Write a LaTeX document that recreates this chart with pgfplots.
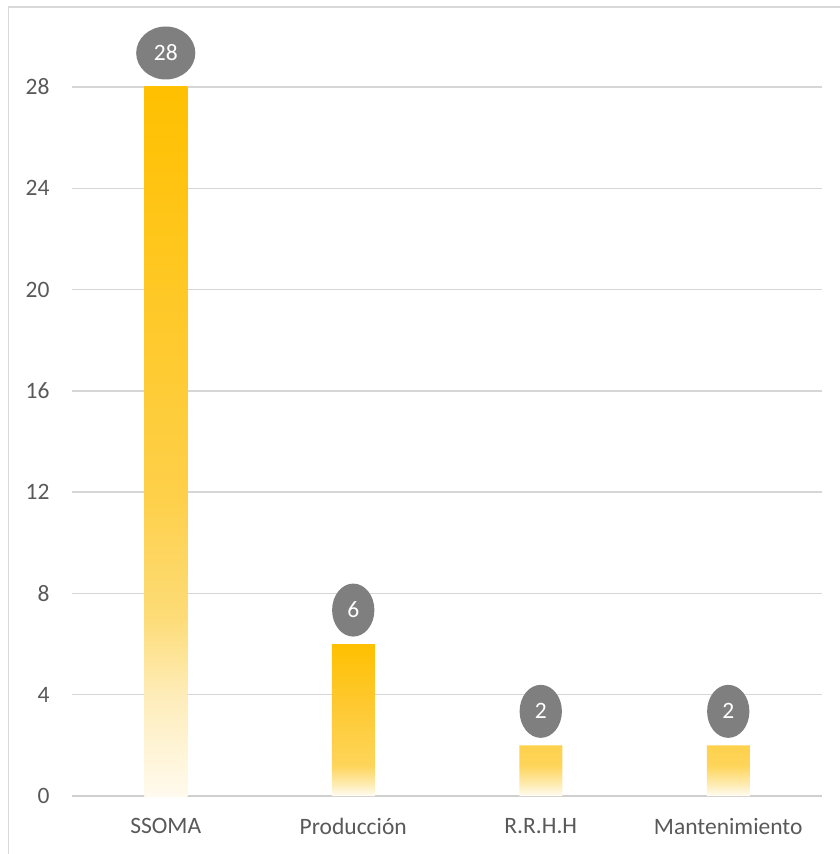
\documentclass[border=0pt]{standalone}
\usepackage{pgfplots}
\pgfplotsset{compat=1.18}
\usepackage{fontspec}
\setmainfont{Carlito}
\usetikzlibrary{shapes.geometric}
\definecolor{framec}{HTML}{D9D9D9}
\definecolor{gridc}{HTML}{D6D6D6}
\definecolor{basec}{HTML}{CFCFCF}
\definecolor{labc}{HTML}{595959}
\definecolor{bubc}{HTML}{7F7F7F}
\definecolor{cTop}{HTML}{FFC000}
\definecolor{cA0}{HTML}{FFFAEE}
\definecolor{cA1}{HTML}{FEEDBA}
\definecolor{cA2}{HTML}{FDDC78}
\definecolor{cA3}{HTML}{FED04A}
\definecolor{cB0}{HTML}{FFFCF2}
\definecolor{cB1}{HTML}{FEEBB0}
\definecolor{cB2}{HTML}{FED55A}
\definecolor{cB3}{HTML}{FEC931}
\pgfdeclareverticalshading{fadeA}{100bp}{color(0bp)=(cA0); color(25bp)=(cA0); color(32bp)=(cA1); color(37.5bp)=(cA2); color(46bp)=(cA3); color(75bp)=(cTop); color(100bp)=(cTop)}
\pgfdeclareverticalshading{fadeB}{100bp}{color(0bp)=(cB0); color(25bp)=(cB0); color(29bp)=(cB1); color(35bp)=(cB2); color(55bp)=(cB3); color(75bp)=(cTop); color(100bp)=(cTop)}
\begin{document}
\begin{tikzpicture}
\path[use as bounding box] (0,0) rectangle (840pt,854pt);
\draw[color=framec, line width=1.2pt] (8.5pt,-5pt) -- (8.5pt,847pt) -- (850pt,847pt);
\begin{axis}[
  at={(72pt,58pt)}, anchor=south west,
  scale only axis, width=750pt, height=709pt,
  xmin=-0.5, xmax=3.5, ymin=0, ymax=28,
  ytick={0,4,...,28},
  xtick={0,1,2,3},
  xticklabels={SSOMA,Producción,R.R.H.H,Mantenimiento},
  ymajorgrids, grid style={color=gridc, line width=1.4pt},
  extra y ticks={0}, extra y tick labels={},
  extra y tick style={grid style={color=basec, line width=1.8pt}},
  axis line style={draw=none},
  major tick length=0pt,
  tick label style={font=\fontsize{23.5}{28}\selectfont, text=labc},
  yticklabel style={xshift=-19pt},
  xticklabel style={yshift=-19pt},
  /pgf/number format/assume math mode=true,
  ybar, bar width=43pt, bar shift=0pt,
  clip=false,
  nodes near coords,
  nodes near coords style={anchor=center, yshift=34pt, ellipse, fill=bubc, text=white,
    inner xsep=9pt, inner ysep=3pt, minimum width=40pt, minimum height=53pt,
    font=\fontsize{23.5}{28}\selectfont},
]
\addplot[draw=none, shade, shading=fadeA] coordinates {(0,28)};
\addplot[draw=none, shade, shading=fadeB] coordinates {(1,6) (2,2) (3,2)};
\end{axis}
\end{tikzpicture}
\end{document}
